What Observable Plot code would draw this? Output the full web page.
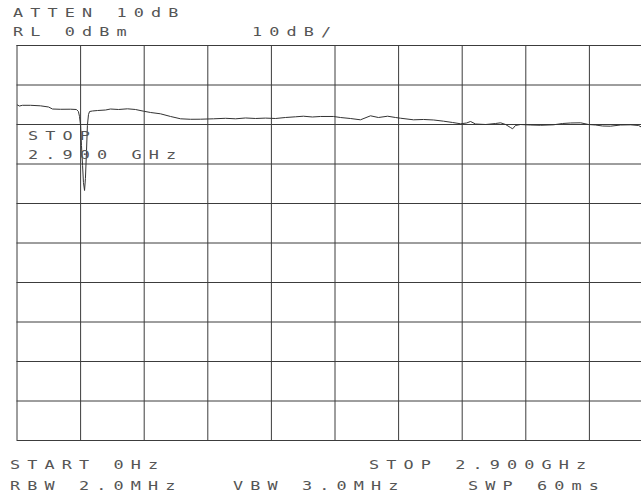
<!DOCTYPE html>
<html><head><meta charset="utf-8">
<script src="https://cdn.jsdelivr.net/npm/d3@7"></script>
<script src="https://cdn.jsdelivr.net/npm/@observablehq/plot@0.6"></script>
<style>
html,body{margin:0;padding:0;background:#fff;overflow:hidden;width:641px;height:495px}
#wrap{position:relative;width:641px;height:495px;overflow:hidden}
#chart svg{max-width:none !important;display:block}
.lbl{position:absolute;font-family:"DejaVu Sans Mono",monospace;font-size:12px;line-height:12px;letter-spacing:5.1px;color:#555;white-space:pre;transform:scaleX(1.4);transform-origin:0 0}
</style></head><body>
<div id="wrap"><div id="chart"></div></div>
<script>
// Spectrum trace: frequency (GHz) and level (dBm)
const freqGHz = [0.002,0.011,0.025,0.062,0.107,0.144,0.162,0.198,0.244,0.271,0.280,0.285,0.290,0.294,0.299,0.303,0.308,0.312,0.317,0.321,0.326,0.331,0.344,0.367,0.404,0.426,0.463,0.504,0.540,0.577,0.609,0.654,0.700,0.746,0.791,0.837,0.896,0.951,0.997,1.042,1.088,1.133,1.179,1.224,1.270,1.306,1.347,1.384,1.443,1.475,1.520,1.566,1.612,1.648,1.690,1.726,1.749,1.808,1.854,1.900,1.945,1.986,2.023,2.050,2.068,2.091,2.137,2.182,2.205,2.228,2.250,2.260,2.273,2.296,2.342,2.387,2.446,2.487,2.524,2.570,2.606,2.638,2.670,2.706,2.752,2.798,2.834,2.848];
const levelDbm = [-15.06,-15.32,-15.14,-15.14,-15.27,-15.57,-16.08,-16.15,-16.13,-16.20,-16.71,-17.97,-20.25,-25.32,-30.38,-34.68,-36.71,-33.67,-26.58,-20.25,-17.47,-16.71,-16.58,-16.46,-16.33,-16.08,-16.20,-16.03,-16.20,-16.63,-16.96,-17.29,-17.97,-18.56,-18.68,-18.66,-18.56,-18.43,-18.56,-18.35,-18.48,-18.38,-18.48,-18.23,-18.05,-17.90,-18.10,-17.97,-17.97,-18.23,-18.48,-18.81,-17.80,-18.23,-17.90,-18.23,-18.41,-18.81,-18.73,-18.86,-19.16,-19.49,-19.82,-19.62,-19.24,-19.87,-20.00,-19.75,-19.57,-20.00,-20.76,-21.09,-20.25,-20.00,-20.13,-20.20,-20.08,-19.75,-19.62,-19.57,-20.00,-20.13,-20.38,-20.43,-20.13,-20.08,-20.25,-20.68];

// Grid divisions
const xTicksGHz = d3.range(11).map(i => +(i * 0.29).toFixed(2));
const yTicksDbm = d3.range(11).map(i => -i * 10);

// Annotation text
const headerLabels = ["ATTEN 10dB", "RL 0dBm", "10dB/"];
const markerLabel = ["STOP", "2.900 GHz"];
const footerLabels = ["START 0Hz", "STOP 2.900GHz", "RBW 2.0MHz", "VBW 3.0MHz", "SWP 60ms"];

const trace = freqGHz.map((f, i) => ({f, v: levelDbm[i]}));
const gridColor = "#3c3c3c";

const plot = Plot.plot({
  width: 660,
  height: 495,
  marginLeft: 16.5,
  marginRight: 7.5,
  marginTop: 45,
  marginBottom: 55,
  x: {domain: [0, 2.9], axis: null},
  y: {domain: [-100, 0], axis: null},
  style: {background: "#fff", overflow: "hidden"},
  marks: [
    Plot.ruleX(xTicksGHz, {stroke: gridColor, strokeWidth: 1}),
    Plot.ruleY(yTicksDbm, {stroke: gridColor, strokeWidth: 1}),
    Plot.line(trace, {x: "f", y: "v", stroke: "#333", strokeWidth: 1}),
  ]
});
document.getElementById("chart").appendChild(plot);

// Text layout (left x, baseline y in px)
const wrap = document.getElementById("wrap");
const place = [
  [headerLabels[0], 12.5, 17],
  [headerLabels[1], 12.5, 36],
  [headerLabels[2], 252, 36],
  [markerLabel[0], 28, 140],
  [markerLabel[1], 28, 159],
  [footerLabels[0], 10, 469],
  [footerLabels[1], 369, 469],
  [footerLabels[2], 10, 490],
  [footerLabels[3], 233, 490],
  [footerLabels[4], 468, 490]
];
for (const [t, x, b] of place) {
  const d = document.createElement("div");
  d.className = "lbl";
  d.textContent = t;
  d.style.left = x + "px";
  d.style.top = (b - 10) + "px";
  wrap.appendChild(d);
}
</script>
</body></html>
